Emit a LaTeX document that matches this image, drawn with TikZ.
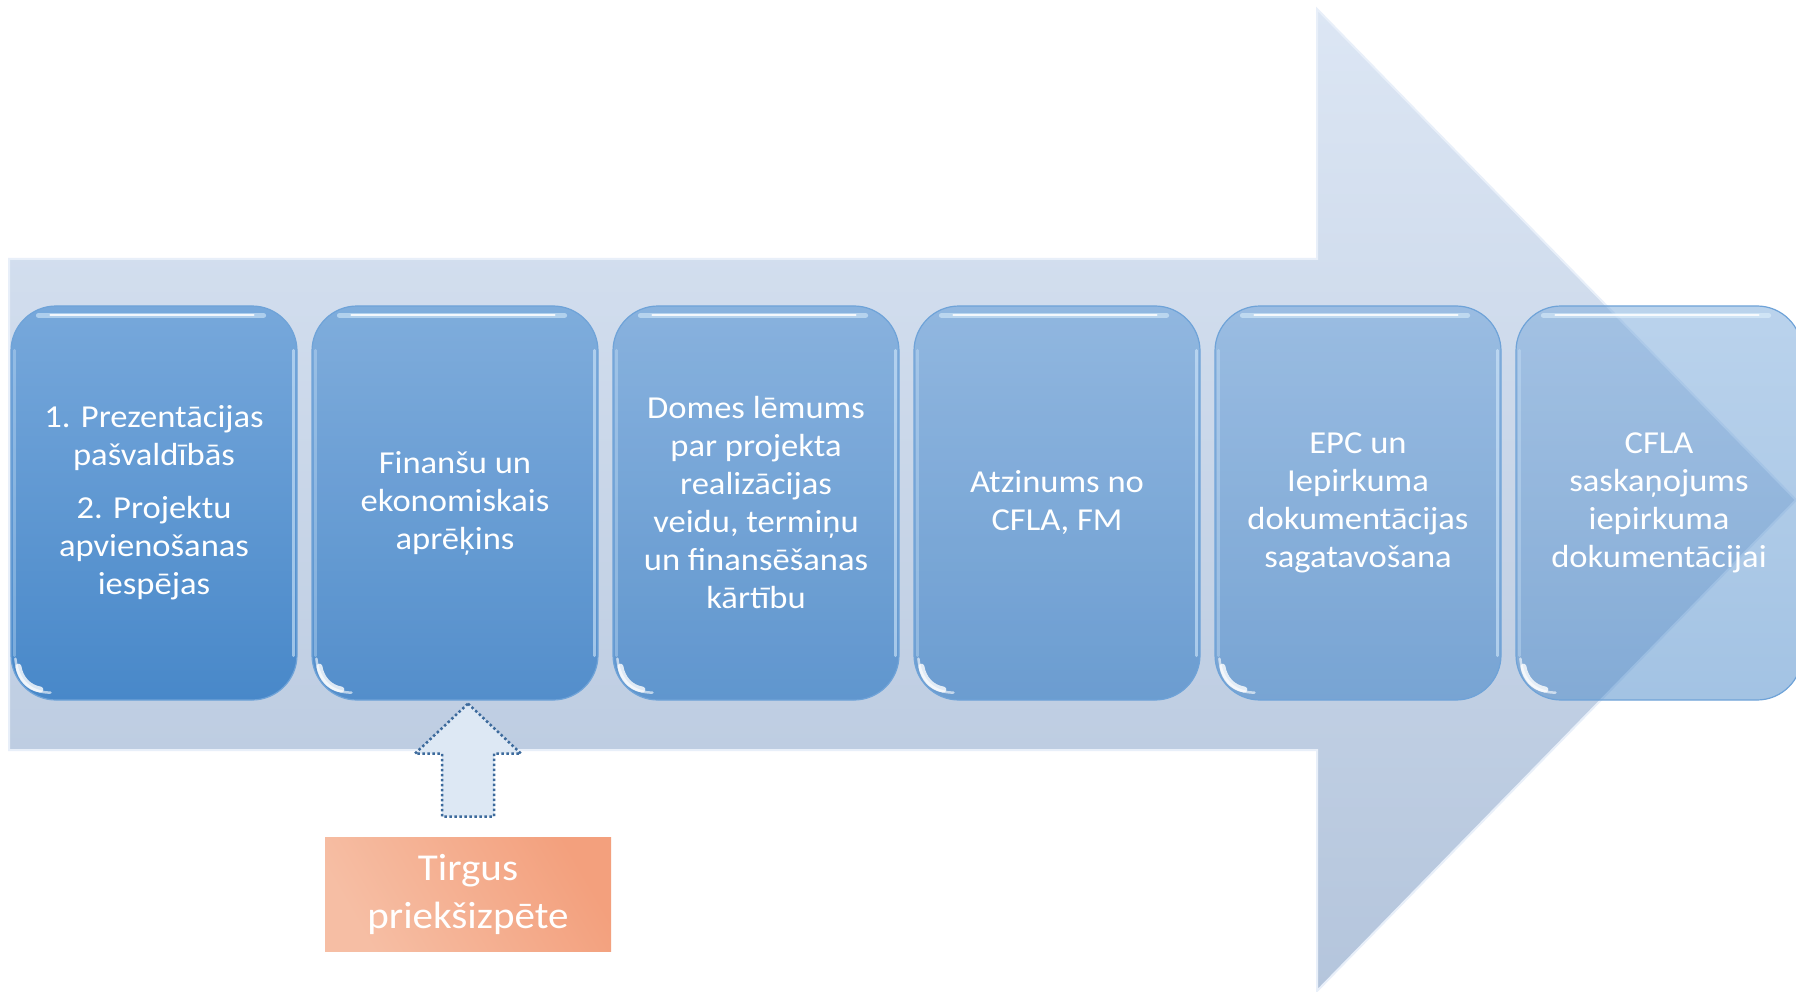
\documentclass[tikz,border=0pt]{standalone}
\usepackage{fontspec}
\setmainfont{Carlito}[FakeStretch=1.08]
\usetikzlibrary{calc}
\definecolor{arrtop}{HTML}{DCE6F4}
\definecolor{arrbot}{HTML}{B4C5DC}
\definecolor{arredge}{HTML}{E8EFF9}
\definecolor{boxtop}{HTML}{77A8DB}
\definecolor{boxbot}{HTML}{4888C9}
\definecolor{boxedge}{HTML}{6FA3D8}
\definecolor{rimcol}{HTML}{D2E8FB}
\definecolor{glowcol}{HTML}{E4F6FF}
\definecolor{smallfill}{HTML}{DDE8F4}
\definecolor{smalledge}{HTML}{3C6A9C}
\definecolor{orgA}{HTML}{F6BEA4}
\definecolor{orgB}{HTML}{F3A07D}
\tikzset{
  procbox/.style={minimum width=286pt, minimum height=394pt, rounded corners=45pt,
    top color=boxtop, bottom color=boxbot, draw=boxedge, line width=1.2pt,
    text=white, text opacity=1, align=center, inner sep=0pt,
    font=\fontsize{32}{38}\selectfont},
  tophl/.style={glowcol, line width=5pt, line cap=round, opacity=0.5},
  tophlcore/.style={white, line width=2pt, line cap=round, opacity=0.85},
  rimhl/.style={rimcol, line width=3pt, line cap=round, opacity=0.6},
  crescent/.style={white, line cap=round, opacity=0.8},
  marketbox/.style={minimum width=286pt, minimum height=114pt, inner sep=0pt,
    shading=axis, left color=orgA, right color=orgB, shading angle=120,
    text=white, align=center, font=\fontsize{38}{48}\selectfont},
  inarrow/.style={fill=smallfill, draw=smalledge, line width=2.5pt,
    dash pattern=on 2.5pt off 2.5pt, line join=miter}
}
\begin{document}
\begin{tikzpicture}[x=1pt,y=-1pt]
\useasboundingbox (0,0) rectangle (1796,992);
\fill[white] (0,0) rectangle (1796,992);
% big process arrow
\shade[top color=arrtop, bottom color=arrbot, draw=arredge, line width=2pt]
  (9,259) -- (1317,259) -- (1317,9) -- (1796,500) -- (1317,991) -- (1317,750) -- (9,750) -- cycle;
% process boxes
\node[procbox] (b1) at (154,503) {1. Prezentācijas\\pašvaldībās\\[15pt]2. Projektu\\apvienošanas\\iespējas};
\node[procbox, fill opacity=0.9] (b2) at (455,503) {Finanšu un\\ekonomiskais\\aprēķins};
\node[procbox, fill opacity=0.8] (b3) at (756,503) {Domes lēmums\\par projekta\\realizācijas\\veidu, termiņu\\un finansēšanas\\kārtību};
\node[procbox, fill opacity=0.7] (b4) at (1057,503) {Atzinums no\\CFLA, FM};
\node[procbox, fill opacity=0.6] (b5) at (1358,503) {EPC un\\Iepirkuma\\dokumentācijas\\sagatavošana};
\node[procbox, fill opacity=0.5] (b6) at (1659,503) {CFLA\\saskaņojums\\iepirkuma\\dokumentācijai};
% glossy highlights
\foreach \n in {b1,b2,b3,b4,b5,b6}{
  \draw[tophl] ([xshift=28pt,yshift=-10pt]\n.north west) -- ([xshift=-34pt,yshift=-10pt]\n.north east);
  \draw[tophlcore] ([xshift=40pt,yshift=-10pt]\n.north west) -- ([xshift=-44pt,yshift=-10pt]\n.north east);
  \draw[rimhl] ([xshift=-4.5pt,yshift=-45pt]\n.north east) -- ([xshift=-4.5pt,yshift=45pt]\n.south east);
  \draw[rimhl, opacity=0.35] ([xshift=4.5pt,yshift=-45pt]\n.north west) -- ([xshift=4.5pt,yshift=45pt]\n.south west);
  \draw[crescent, line width=2.5pt, opacity=0.6] ([xshift=5pt,yshift=42pt]\n.south west) .. controls ([xshift=7pt,yshift=20pt]\n.south west) and ([xshift=20pt,yshift=8pt]\n.south west) .. ([xshift=40pt,yshift=8pt]\n.south west);
  \draw[crescent, line width=6pt] ([xshift=8pt,yshift=34pt]\n.south west) .. controls ([xshift=10pt,yshift=22pt]\n.south west) and ([xshift=18pt,yshift=13pt]\n.south west) .. ([xshift=30pt,yshift=11pt]\n.south west);
}
% market pre-study box
\node[marketbox] (t) at (468,894) {Tirgus\\priekšizpēte};
% dotted block arrow from market box up to box 2
\coordinate (tip) at ($(b2.south)+(13,3)$);
\draw[inarrow] (tip) -- ++(53,50) -- ++(-27,0) -- ++(0,63) -- ++(-52,0) -- ++(0,-63) -- ++(-27,0) -- cycle;
\end{tikzpicture}
\end{document}
